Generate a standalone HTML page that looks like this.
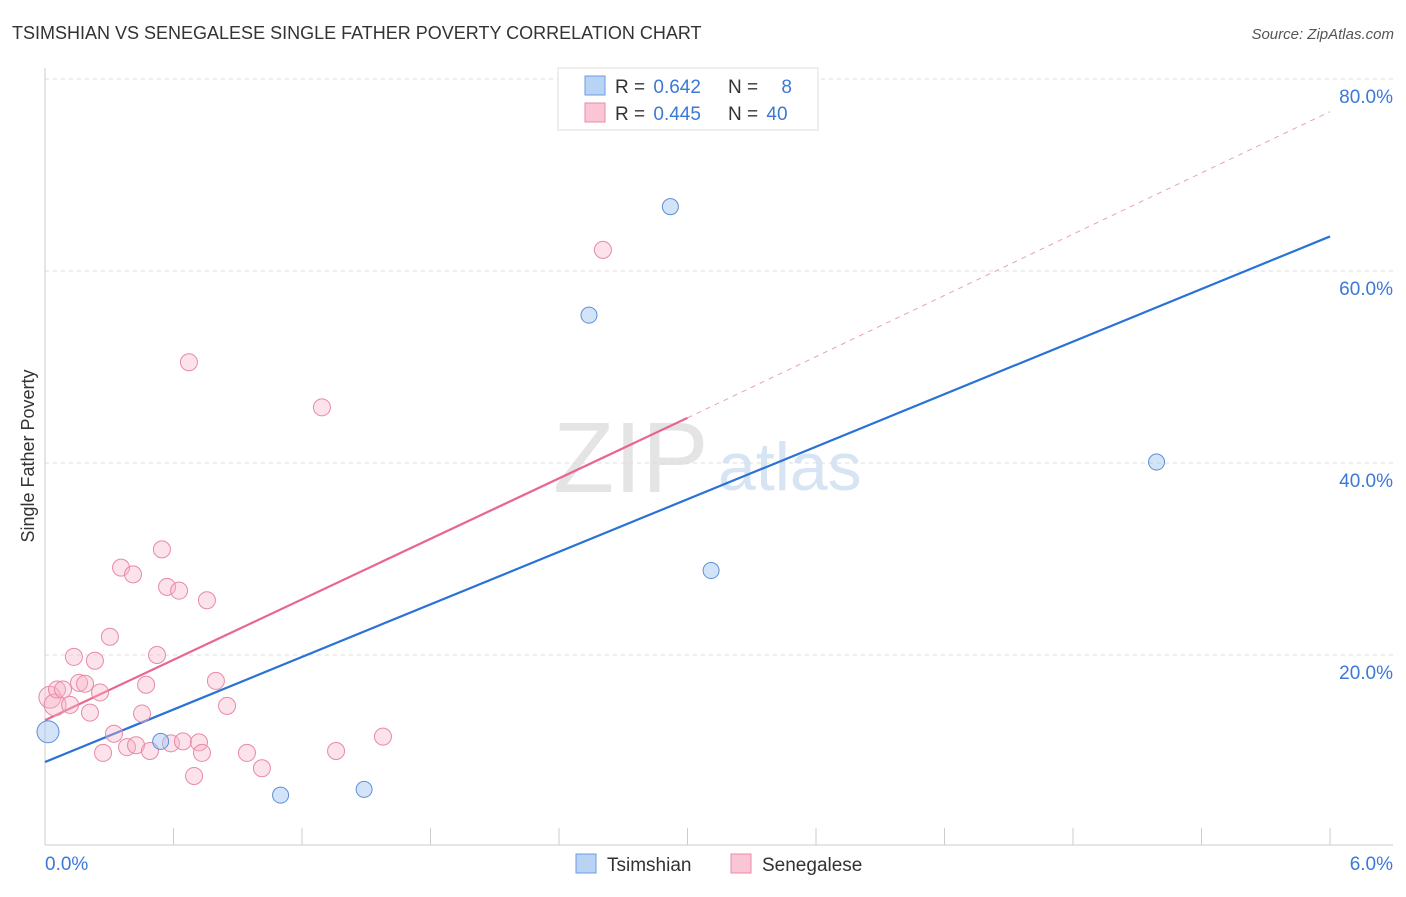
<!DOCTYPE html>
<html><head><meta charset="utf-8"><style>
body{margin:0;background:#fff;font-family:"Liberation Sans",sans-serif;}
svg text{font-family:"Liberation Sans",sans-serif;}
</style></head><body>
<svg id="c" width="1406" height="892" xmlns="http://www.w3.org/2000/svg">
<text x="12" y="39" font-size="18" fill="#333">TSIMSHIAN VS SENEGALESE SINGLE FATHER POVERTY CORRELATION CHART</text>
<text x="1394" y="39" font-size="15" fill="#555" text-anchor="end" font-style="italic">Source: ZipAtlas.com</text>
<text x="553" y="492" font-size="100" fill="#e4e4e4" font-family="Liberation Serif">ZIP</text>
<text x="718" y="490" font-size="68" fill="#d6e4f4">atlas</text>
<text transform="translate(34,456) rotate(-90)" font-size="18" fill="#333" text-anchor="middle">Single Father Poverty</text>
<g id="grid"></g><g id="axes"></g><g id="lines"></g><g id="pts"></g>
<g>
<rect x="558" y="68" width="260" height="62" fill="#fff" stroke="#ddd"/>
<rect x="585" y="76" width="20" height="19" fill="#b9d3f5" stroke="#6c9be0"/>
<rect x="585" y="103" width="20" height="19" fill="#fac6d5" stroke="#ea8aa7"/>
<text x="615" y="93" font-size="19" fill="#333">R = <tspan fill="#3c78d8" dx="3">0.642</tspan></text>
<text x="728" y="93" font-size="19" fill="#333">N = <tspan fill="#3c78d8" dx="18">8</tspan></text>
<text x="615" y="120" font-size="19" fill="#333">R = <tspan fill="#3c78d8" dx="3">0.445</tspan></text>
<text x="728" y="120" font-size="19" fill="#333">N = <tspan fill="#3c78d8" dx="3">40</tspan></text>
</g>
<g>
<rect x="576" y="854" width="20" height="19" fill="#b9d3f5" stroke="#6c9be0"/>
<text x="607" y="871" font-size="19" fill="#333">Tsimshian</text>
<rect x="731" y="854" width="20" height="19" fill="#fac6d5" stroke="#ea8aa7"/>
<text x="762" y="871" font-size="19" fill="#333">Senegalese</text>
</g>
</svg>
<script>
const blueX=[0.014,0.54,1.10,1.49,2.54,2.92,3.11,5.19];
const blueY=[12.0,11.0,5.4,6.0,55.4,66.7,28.8,40.1];
const pinkX=[0.023,0.047,0.056,0.084,0.117,0.135,0.159,0.187,0.210,0.233,0.257,0.271,0.303,0.322,0.355,0.383,0.411,0.425,0.453,0.472,0.490,0.523,0.546,0.570,0.588,0.626,0.644,0.672,0.696,0.719,0.733,0.756,0.798,0.850,0.943,1.013,1.293,1.359,1.578,2.605];
const pinkY=[15.6,14.8,16.4,16.4,14.8,19.8,17.1,17.0,14.0,19.4,16.1,9.8,21.9,11.8,29.1,10.4,28.4,10.6,13.9,16.9,10.0,20.0,31.0,27.1,10.8,26.7,11.0,50.5,7.4,10.9,9.8,25.7,17.3,14.7,9.8,8.2,45.8,10.0,11.5,62.2];
const blueLine=[8.85,63.6];
const pinkLine=[13.2,44.7,76.6];
const yTicks=[20,40,60,80];
const xTickLabels=["0.0%","6.0%"];
const NS="http://www.w3.org/2000/svg";
const sx=v=>45+v*214.17, sy=v=>847-v*9.6;
function mk(p,t,a){const e=document.createElementNS(NS,t);for(const k in a)e.setAttribute(k,a[k]);document.getElementById(p).appendChild(e);return e;}
yTicks.forEach(t=>{
 const g=mk('grid','line',{x1:45,x2:1393,y1:sy(t),y2:sy(t),stroke:'#ddd','stroke-dasharray':'4,4'});
 
 
 const l=mk('grid','text',{x:1393,y:sy(t)+24,'font-size':19,fill:'#3c78d8','text-anchor':'end'});l.textContent=t.toFixed(1)+'%';
 
 
});
mk('axes','line',{x1:45,x2:45,y1:68,y2:845,stroke:'#ccc'});
mk('axes','line',{x1:45,x2:1393,y1:845,y2:845,stroke:'#ccc'});
for(let i=1;i<=10;i++){mk('axes','line',{x1:sx(i*0.6),x2:sx(i*0.6),y1:828,y2:845,stroke:'#ccc'});}
let t0=mk('axes','text',{x:45,y:870,'font-size':19,fill:'#3c78d8'});t0.textContent=xTickLabels[0];


let t1=mk('axes','text',{x:1393,y:870,'font-size':19,fill:'#3c78d8','text-anchor':'end'});t1.textContent=xTickLabels[1];


let bl=mk('lines','line',{x1:sx(0),y1:sy(blueLine[0]),x2:sx(6),y2:sy(blueLine[1]),stroke:'#2a72d6','stroke-width':2.2});


let pl=mk('lines','line',{x1:sx(0),y1:sy(pinkLine[0]),x2:sx(3),y2:sy(pinkLine[1]),stroke:'#e8668e','stroke-width':2.2});


let pd=mk('lines','line',{x1:sx(3),y1:sy(pinkLine[1]),x2:sx(6),y2:sy(pinkLine[2]),stroke:'#eaa0b6','stroke-width':1,'stroke-dasharray':'5,5'});


pinkX.forEach((x,i)=>{const c=mk('pts','circle',{cx:sx(x),cy:sy(pinkY[i]),r:i<2?11:8.5,fill:'rgba(248,180,200,0.38)',stroke:'#e88aa6','stroke-width':1});
 
 });
blueX.forEach((x,i)=>{const c=mk('pts','circle',{cx:sx(x),cy:sy(blueY[i]),r:i==0?11:8,fill:'rgba(160,195,240,0.45)',stroke:'#5b8fd6','stroke-width':1});
 
 });
</script>
</body></html>
